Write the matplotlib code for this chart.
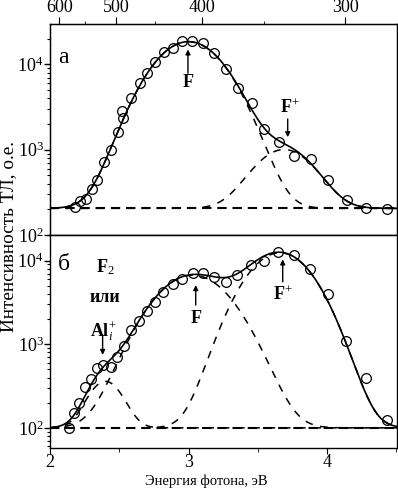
import numpy as np
import matplotlib
matplotlib.use('Agg')
import matplotlib.pyplot as plt

plt.rcParams['font.family'] = ['Liberation Serif', 'DejaVu Serif']
plt.rcParams['mathtext.fontset'] = 'custom'
plt.rcParams['mathtext.rm'] = 'Liberation Serif'
plt.rcParams['mathtext.it'] = 'Liberation Serif:italic'
plt.rcParams['mathtext.bf'] = 'Liberation Serif:bold'

# ---------------- data ----------------
top_E = [2.181, 2.217, 2.260, 2.301, 2.342, 2.392, 2.440, 2.489, 2.523, 2.529,
         2.585, 2.650, 2.703, 2.758, 2.823, 2.886, 2.955, 3.027, 3.107, 3.186,
         3.271, 3.355, 3.456, 3.547, 3.653, 3.764, 3.882, 4.009, 4.147, 4.282, 4.436]
top_I = [211, 252, 264, 346, 445, 711, 1000, 1626, 2843, 2355,
         4036, 6000, 7925, 10770, 13870, 15450, 18800, 18800, 17800, 13600,
         8830, 5330, 3520, 1750, 1240, 851, 778, 445, 257, 206, 202]

bot_E = [2.140, 2.176, 2.212, 2.253, 2.296, 2.342, 2.381, 2.438, 2.482, 2.537,
         2.585, 2.645, 2.698, 2.758, 2.818, 2.886, 2.955, 3.030, 3.107, 3.185,
         3.274, 3.353, 3.449, 3.545, 3.646, 3.759, 3.880, 4.007, 4.139, 4.279, 4.432]
bot_I = [100, 150, 198, 312, 382, 517, 566, 532, 700, 955,
         1480, 1900, 2500, 3170, 4240, 5200, 5970, 7150, 7150, 6400,
         5580, 6710, 8830, 9950, 12740, 11640, 7930, 3980, 1100, 393, 124]

# Gaussian decomposition
top_base = 205
top_centers = [3.00, 3.69]
top_sigmas = [0.226, 0.189]
top_amps = [18300, 800]

bot_base = 100
bot_centers = [2.40, 3.03, 3.66]
bot_sigmas = [0.11, 0.24, 0.21]
bot_amps = [260, 6600, 12300]

wl_major = [600, 500, 400, 300]
wl_minor = [550, 450, 350]
hc = 1239.84

# ---------------- figure ----------------
fig = plt.figure(figsize=(3.98, 4.92), dpi=100)
ax1 = fig.add_axes([0.1256, 0.5224, 0.8719, 0.4288])
ax2 = fig.add_axes([0.1256, 0.0894, 0.8719, 0.4330])

E = np.linspace(2.0, 4.505, 600)
TICK_FS = 13


def draw_panel(ax, base, centers, sigmas, amps, xE, yI):
    comps = [a * np.exp(-(E - c) ** 2 / (2 * s ** 2)) for c, s, a in zip(centers, sigmas, amps)]
    ax.plot(E, np.full_like(E, base), color='k', lw=1.5, ls=(0, (4.5, 2.8)))
    for g in comps:
        ax.plot(E, base + g, color='k', lw=1.1, ls=(0, (5, 5)))
    ax.plot(E, base + np.sum(comps, axis=0), color='k', lw=1.2)
    ax.plot(xE, yI, 'o', mfc='none', mec='k', ms=7, mew=0.9)
    ax.set_yscale('log')
    ax.set_xlim(2.0, 4.505)
    ax.tick_params(axis='y', which='major', direction='out', length=4, width=1,
                   labelsize=TICK_FS, pad=0.5)
    ax.tick_params(axis='y', which='minor', direction='out', length=2.5, width=0.8)
    ax.tick_params(axis='y', right=False, which='both')
    for sp in ax.spines.values():
        sp.set_linewidth(1.0)


draw_panel(ax1, top_base, top_centers, top_sigmas, top_amps, top_E, top_I)
draw_panel(ax2, bot_base, bot_centers, bot_sigmas, bot_amps, bot_E, bot_I)

ax1.set_ylim(100, 29800)
ax2.set_ylim(57.4, 20270)

ax1.tick_params(axis='x', which='both', bottom=False, labelbottom=False)

ax2.set_xticks([2, 3, 4])
ax2.set_xticklabels(['2', '3', '4'])
ax2.set_xticks([2.5, 3.5, 4.5], minor=True)
ax2.tick_params(axis='x', which='major', direction='out', length=4, labelsize=TICK_FS, pad=0.5)
ax2.tick_params(axis='x', which='minor', direction='out', length=3)

# top wavelength axis
axt = ax1.twiny()
axt.set_xlim(ax1.get_xlim())
axt.set_xticks([hc / w for w in wl_major])
axt.set_xticklabels([str(w) for w in wl_major])
axt.set_xticks([hc / w for w in wl_minor], minor=True)
axt.tick_params(axis='x', which='major', direction='out', length=5, labelsize=TICK_FS, pad=1)
axt.tick_params(axis='x', which='minor', direction='out', length=2.5)

# axis titles, sized to the reference text lengths (in pixels)
ylab = fig.text(0.022, 0.52, 'Интенсивность ТЛ, о.е.', rotation=90, ha='center', va='center',
                fontsize=11)
xlab = fig.text(0.519, 0.022, 'Энергия фотона, эВ', ha='center', va='center', fontsize=11)
fig.canvas.draw()
r = fig.canvas.get_renderer()
ylab.set_fontsize(11 * 192.0 / ylab.get_window_extent(r).height)
xlab.set_fontsize(11 * 123.0 / xlab.get_window_extent(r).width)

ax1.text(2.10, 12000, 'а', fontsize=17, ha='center', va='center')
ax2.text(2.10, 9000, 'б', fontsize=17, ha='center', va='center')

arrow = dict(arrowstyle='-|>', color='k', lw=1.0, mutation_scale=7, shrinkA=0, shrinkB=0)

# top annotations
ax1.text(2.996, 6170, r'$\mathbf{F}$', fontsize=13, ha='center', va='center')
ax1.annotate('', xy=(2.996, 15000), xytext=(2.996, 7900), arrowprops=arrow)
ax1.text(3.73, 3140, r'$\mathbf{F}^{+}$', fontsize=13, ha='center', va='center')
ax1.annotate('', xy=(3.716, 1400), xytext=(3.716, 2290), arrowprops=arrow)

# bottom annotations
ax2.text(2.397, 7350, r'$\mathbf{F}_{2}$', fontsize=13, ha='center', va='baseline')
ax2.text(2.394, 3220, 'или', fontsize=13, fontweight='bold', ha='center', va='baseline')
ax2.text(2.385, 1232, r'$\mathbf{Al}_{i}^{+}$', fontsize=13, ha='center', va='baseline')
ax2.annotate('', xy=(2.38, 745), xytext=(2.38, 1290), arrowprops=arrow)
ax2.text(3.053, 1780, r'$\mathbf{F}$', fontsize=13, ha='center', va='baseline')
ax2.annotate('', xy=(3.052, 5100), xytext=(3.052, 2940), arrowprops=arrow)
ax2.text(3.68, 3380, r'$\mathbf{F}^{+}$', fontsize=13, ha='center', va='baseline')
ax2.annotate('', xy=(3.68, 10330), xytext=(3.68, 5580), arrowprops=arrow)

fig.savefig('out.png', dpi=100)
